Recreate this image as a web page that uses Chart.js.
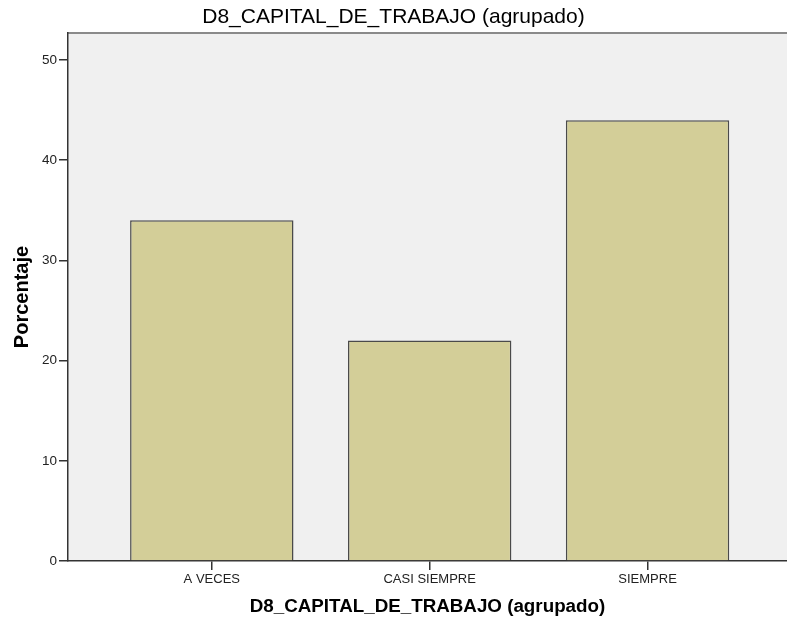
<!DOCTYPE html>
<html>
<head>
<meta charset="utf-8">
<script src="https://cdn.jsdelivr.net/npm/chart.js@4/dist/chart.umd.min.js"></script>
<style>
  html, body { margin: 0; padding: 0; background: #fff; }
  #wrap { width: 787px; height: 624px; }
</style>
</head>
<body>
<div id="wrap"><canvas id="c"></canvas></div>
<script>
const categories = ['A VECES', 'CASI SIEMPRE', 'SIEMPRE'];
const percentages = [34, 22, 44];
const yTicks = [0, 10, 20, 30, 40, 50];

const FONT = '"Liberation Sans", Arial, sans-serif';

// grey plot background + top frame line, like the SPSS output
const plotBg = {
  id: 'plotBg',
  beforeDraw(chart) {
    const { ctx, chartArea: a } = chart;
    ctx.save();
    ctx.fillStyle = '#f0f0f0';
    ctx.fillRect(a.left, a.top, a.right - a.left, a.bottom - a.top);
    ctx.strokeStyle = '#8a8a8a';
    ctx.lineWidth = 2;
    ctx.beginPath();
    ctx.moveTo(a.left, a.top);
    ctx.lineTo(a.right, a.top);
    ctx.stroke();
    ctx.restore();
  }
};

new Chart(document.getElementById('c'), {
  type: 'bar',
  data: {
    datasets: [{
      data: percentages.map((v, i) => ({ x: i, y: v })),
      backgroundColor: '#d3ce98',
      borderColor: '#4a4a4a',
      borderWidth: 1.5,
      categoryPercentage: 1,
      barPercentage: 0.75
    }]
  },
  options: {
    responsive: true,
    maintainAspectRatio: false,
    animation: false,
    layout: { padding: 0 },
    plugins: {
      legend: { display: false },
      tooltip: { enabled: false },
      title: {
        display: true,
        text: 'D8_CAPITAL_DE_TRABAJO (agrupado)',
        color: '#000',
        font: { family: FONT, size: 21, weight: 'normal', lineHeight: 1.2 },
        padding: { top: 4.5, bottom: 3.3 }
      }
    },
    scales: {
      x: {
        type: 'linear',
        offset: false,
        min: -0.66,
        max: 2.64,
        afterBuildTicks: (s) => { s.ticks = categories.map((c, i) => ({ value: i })); },
        afterFit: (s) => { s.height = 63; },
        ticks: {
          color: '#222',
          font: { family: FONT, size: 13 },
          padding: 2,
          maxRotation: 0,
          callback: (v) => categories[v]
        },
        grid: { offset: false, drawOnChartArea: false, drawTicks: true, tickLength: 9, color: '#333', lineWidth: 1.5 },
        border: { display: true, color: '#333', width: 1.5 },
        title: {
          display: true,
          text: 'D8_CAPITAL_DE_TRABAJO (agrupado)',
          color: '#000',
          font: { family: FONT, size: 18.8, weight: 'bold', lineHeight: 1.2 },
          padding: { top: 0, bottom: 6 }
        }
      },
      y: {
        min: 0,
        max: 52.7,
        afterBuildTicks: (s) => { s.ticks = yTicks.map((v) => ({ value: v })); },
        afterFit: (s) => { s.width = 68; },
        ticks: {
          color: '#222',
          font: { family: FONT, size: 13.5 },
          padding: 2
        },
        grid: { drawOnChartArea: false, drawTicks: true, tickLength: 9, color: '#333', lineWidth: 1.5 },
        border: { display: true, color: '#333', width: 1.5 },
        title: {
          display: true,
          text: 'Porcentaje',
          color: '#000',
          font: { family: FONT, size: 20, weight: 'bold', lineHeight: 1.2 },
          padding: { top: 10, bottom: 0 }
        }
      }
    }
  },
  plugins: [plotBg]
});
</script>
</body>
</html>
